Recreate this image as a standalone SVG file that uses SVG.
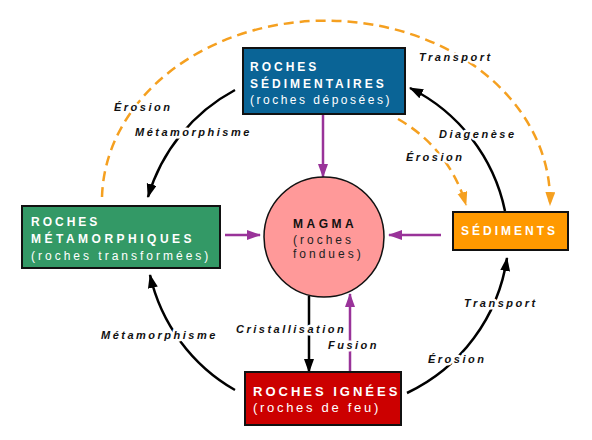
<svg xmlns="http://www.w3.org/2000/svg" width="592" height="440" viewBox="0 0 592 440">
<style>
.box{stroke:#111;stroke-width:2}
.bt{font-family:"Liberation Sans",Arial,sans-serif;font-weight:bold;font-size:12px;fill:#fff;letter-spacing:3px}
.br{font-family:"Liberation Sans",Arial,sans-serif;font-size:12px;fill:#fff;letter-spacing:3px}
.lbl{font-family:"Liberation Sans",Arial,sans-serif;font-weight:bold;font-style:italic;font-size:11px;fill:#111;letter-spacing:2.5px;stroke:#fff;stroke-width:5px;paint-order:stroke;stroke-linejoin:round}
.blk{fill:none;stroke:#000;stroke-width:2.5}
.pur{fill:none;stroke:#993399;stroke-width:2.5}
.org{fill:none;stroke:#F5A020;stroke-width:2.5;stroke-dasharray:10 6}
</style>
<defs>
<marker id="ab" markerUnits="userSpaceOnUse" markerWidth="16" markerHeight="12" refX="13" refY="5" orient="auto"><path d="M0,0 L14,5 L0,10 z" fill="#000"/></marker>
<marker id="ap" markerUnits="userSpaceOnUse" markerWidth="16" markerHeight="12" refX="13" refY="5" orient="auto"><path d="M0,0 L14,5 L0,10 z" fill="#993399"/></marker>
<marker id="ao" markerUnits="userSpaceOnUse" markerWidth="16" markerHeight="12" refX="13" refY="5" orient="auto"><path d="M0,0 L14,5 L0,10 z" fill="#F5A020"/></marker>
</defs>
<rect width="592" height="440" fill="#fff"/>
<g id="connectors">
<path class="org" d="M102,197 A200,161 0 0 1 550,205" marker-end="url(#ao)"/>
<path class="org" d="M398,119 A145,145 0 0 1 466,205" marker-end="url(#ao)"/>
<path class="blk" d="M235,90 A178,178 0 0 0 148,197" marker-end="url(#ab)"/>
<path class="blk" d="M235,390 A178,178 0 0 1 150,275" marker-end="url(#ab)"/>
<path class="blk" d="M407,393 A178,178 0 0 0 507,258" marker-end="url(#ab)"/>
<path class="blk" d="M505,211 A178,178 0 0 0 410,88" marker-end="url(#ab)"/>
<path class="pur" d="M323,114 L323,177" marker-end="url(#ap)"/>
<path class="pur" d="M225,235 L260,235" marker-end="url(#ap)"/>
<path class="pur" d="M441,235 L389,235" marker-end="url(#ap)"/>
<path class="pur" d="M350,372 L350,294" marker-end="url(#ap)"/>
<path class="blk" d="M309,296 L309,372" marker-end="url(#ab)"/>
<text class="lbl" x="114" y="111">Érosion</text>
<text class="lbl" x="135" y="136">Métamorphisme</text>
<text class="lbl" x="419" y="61">Transport</text>
<text class="lbl" x="439" y="138">Diagenèse</text>
<text class="lbl" x="406" y="161">Érosion</text>
<text class="lbl" x="101" y="339">Métamorphisme</text>
<text class="lbl" x="236" y="333">Cristallisation</text>
<text class="lbl" x="328" y="349">Fusion</text>
<text class="lbl" x="464" y="307">Transport</text>
<text class="lbl" x="428" y="363">Érosion</text>
</g>
<g id="sedimentaires">
<rect class="box" x="243" y="48" width="162" height="66" fill="#0A6496"/>
<text class="bt" x="250" y="71">ROCHES</text>
<text class="bt" x="250" y="88">SÉDIMENTAIRES</text>
<text class="br" x="250" y="104" style="letter-spacing:2.5px">(roches déposées)</text>
</g>
<g id="metamorphiques">
<rect class="box" x="22" y="206" width="198" height="62" fill="#339966"/>
<text class="bt" x="31" y="226">ROCHES</text>
<text class="bt" x="31" y="243" style="letter-spacing:3.5px">MÉTAMORPHIQUES</text>
<text class="br" x="31" y="260">(roches transformées)</text>
</g>
<g id="magma">
<circle cx="324" cy="237" r="60" fill="#FF9999" stroke="#111" stroke-width="1.5"/>
<text class="bt" x="293" y="228" style="fill:#111;letter-spacing:3.5px">MAGMA</text>
<text class="br" x="293" y="244" style="fill:#222">(roches</text>
<text class="br" x="293" y="258" style="fill:#222">fondues)</text>
</g>
<g id="sediments">
<rect class="box" x="453" y="212" width="115" height="38" fill="#FF9900"/>
<text class="bt" x="461" y="235">SÉDIMENTS</text>
</g>
<g id="ignees">
<rect class="box" x="245" y="372" width="156" height="53" fill="#CC0000"/>
<text class="bt" x="253" y="396" style="font-size:13px">ROCHES IGNÉES</text>
<text class="br" x="253" y="412" style="font-size:13px;letter-spacing:2.7px">(roches de feu)</text>
</g>
</svg>
